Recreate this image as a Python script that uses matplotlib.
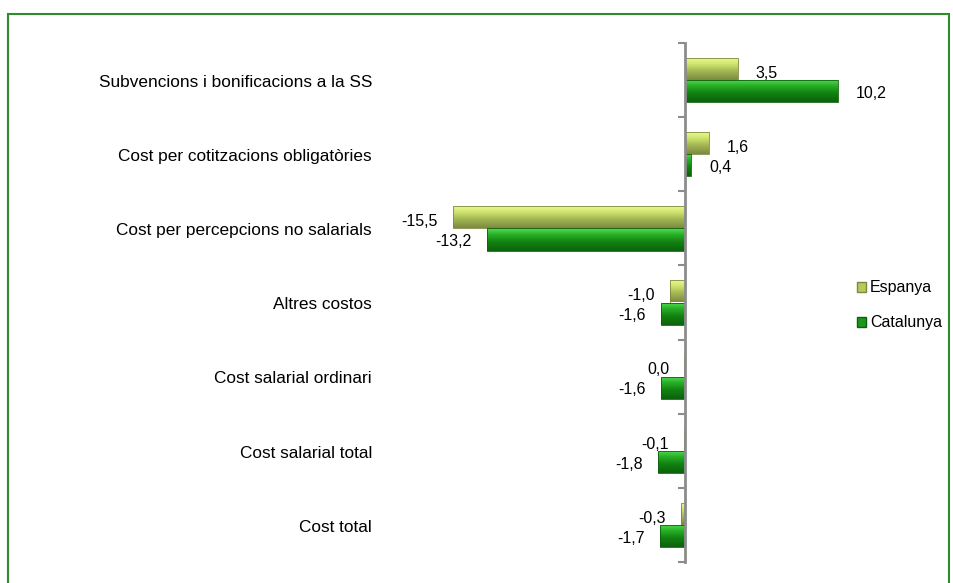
import numpy as np
import matplotlib.pyplot as plt
from matplotlib.patches import Rectangle
from matplotlib.colors import LinearSegmentedColormap
from matplotlib.transforms import blended_transform_factory

plt.rcParams['font.family'] = ['Liberation Sans', 'DejaVu Sans']

# ---------- Dades ----------
categories = [
    "Subvencions i bonificacions a la SS",
    "Cost per cotitzacions obligatòries",
    "Cost per percepcions no salarials",
    "Altres costos",
    "Cost salarial ordinari",
    "Cost salarial total",
    "Cost total",
]
espanya = [3.5, 1.6, -15.5, -1.0, -0.04, -0.1, -0.3]
catalunya = [10.2, 0.4, -13.2, -1.6, -1.6, -1.8, -1.7]
series_names = ["Espanya", "Catalunya"]

# degradats (de dalt a baix): clar -> mig -> fosc
cmap_esp = LinearSegmentedColormap.from_list(
    "esp", [(0, "#eefb9a"), (0.3, "#cfe46e"), (0.6, "#a4b955"), (1, "#7c8a3e")])
cmap_cat = LinearSegmentedColormap.from_list(
    "cat", [(0, "#52de52"), (0.3, "#27ad27"), (0.6, "#128312"), (1, "#0b620b")])

W, H = 954, 583
fig = plt.figure(figsize=(W / 100, H / 100), dpi=100)
ax = fig.add_axes([380 / W, 1 - 562 / H, 550 / W, (562 - 43) / H])

y = np.arange(len(categories))
h = 0.3
off = 0.15
grad = np.linspace(0, 1, 64).reshape(-1, 1)

def gradient_bars(ypos, vals, cmap, edge):
    bars = ax.barh(ypos, vals, height=h, color="none", edgecolor=edge, lw=0.6, zorder=3)
    for b, yy, v in zip(bars, ypos, vals):
        im = ax.imshow(grad, cmap=cmap, aspect="auto", zorder=2,
                       extent=[0, v, yy + h / 2, yy - h / 2], interpolation="bilinear")
        im.set_clip_path(b)

gradient_bars(y - off, espanya, cmap_esp, "#7c8a3e")
gradient_bars(y + off, catalunya, cmap_cat, "#0b620b")

# etiquetes de valor
def fmt(v):
    return f"{v:.1f}".replace(".", ",").replace("-0,0", "0,0")

for i, v in enumerate(espanya):
    ha = "left" if v > 0 else "right"
    dx = 1.2 if v > 0 else -1.0
    ax.text(v + dx, y[i] - off + 0.06, fmt(v), ha=ha, va="center", fontsize=11.5, zorder=5)
for i, v in enumerate(catalunya):
    ha = "left" if v > 0 else "right"
    dx = 1.2 if v > 0 else -1.0
    ax.text(v + dx, y[i] + off + 0.03, fmt(v), ha=ha, va="center", fontsize=11.5, zorder=5)

ax.set_xlim(-(685 - 380) / 15, (930 - 685) / 15)
ax.set_ylim(len(categories) - 0.5, -0.5)

for s in ["top", "right", "bottom"]:
    ax.spines[s].set_visible(False)
ax.spines["left"].set_position(("data", 0))
ax.spines["left"].set_color("#8c8c8c")
ax.spines["left"].set_linewidth(2)
ax.spines["left"].set_zorder(6)
ax.set_xticks([])
ax.set_yticks(np.arange(-0.5, len(categories), 1))
ax.set_yticklabels([])
ax.tick_params(axis="y", length=5, width=1.5, color="#8c8c8c")

# noms de categoria a l'esquerra
tr = blended_transform_factory(fig.transFigure, ax.transData)
for i, c in enumerate(categories):
    ax.text(372 / W, y[i] + 0.03, c, transform=tr, ha="right", va="center", fontsize=12.4)

# llegenda
handles = [Rectangle((0, 0), 1, 1, fc="#b5cb5c", ec="#7c8a3e"),
           Rectangle((0, 0), 1, 1, fc="#1c961c", ec="#0b620b")]
fig.legend(handles, series_names, loc="upper left", bbox_to_anchor=(843 / W, 1 - 266 / H),
           frameon=False, fontsize=11.5, handlelength=0.55, handleheight=0.6,
           handletextpad=0.25, labelspacing=1.25)

# marc verd
fig.patches.append(Rectangle((8 / W, -0.05), (949 - 8) / W, 1.05 - 14 / H,
                             transform=fig.transFigure, fill=False, ec="#2e8b2e", lw=1.5))

fig.savefig("out.png", dpi=100, facecolor="white")
